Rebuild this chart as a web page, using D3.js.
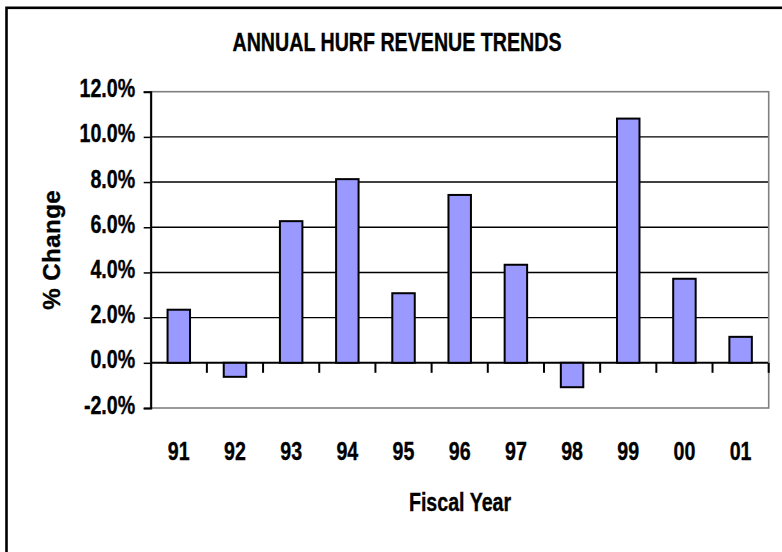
<!DOCTYPE html>
<html>
<head>
<meta charset="utf-8">
<script src="https://cdn.jsdelivr.net/npm/d3@7"></script>
<style>
  body { margin: 0; background: #fff; }
  text { font-family: "Liberation Sans", Arial, sans-serif; font-weight: bold; fill: #000; }
</style>
</head>
<body>
<div id="chart"></div>
<script>
// data
const years = ["91", "92", "93", "94", "95", "96", "97", "98", "99", "00", "01"];
const pctChange = [2.35, -0.62, 6.27, 8.13, 3.08, 7.43, 4.34, -1.08, 10.81, 3.72, 1.15];
const yTicks = [-2, 0, 2, 4, 6, 8, 10, 12];

const width = 782;
const height = 552;
const plot = { left: 150.7, right: 768.7, top: 91.7, bottom: 408 };
const squash = 0.77;   // narrow bold look of the original font
const fontSize = "25.5px";

const svg = d3.select("#chart")
  .append("svg")
  .attr("width", width)
  .attr("height", height);

// outer chart border (runs off the right and bottom edges)
svg.append("rect")
  .attr("x", 6.5).attr("y", 7.8)
  .attr("width", 800).attr("height", 600)
  .attr("fill", "none")
  .attr("stroke", "#000")
  .attr("stroke-width", 2.6);

const x = d3.scaleBand()
  .domain(years)
  .range([plot.left, plot.right])
  .paddingInner(0.6)
  .paddingOuter(0.3);

const y = d3.scaleLinear()
  .domain([-2, 12])
  .range([plot.bottom, plot.top]);

// gridlines
svg.append("g")
  .selectAll("line")
  .data(yTicks.filter(d => d > -2 && d < 12))
  .enter()
  .append("line")
  .attr("x1", plot.left).attr("x2", plot.right)
  .attr("y1", d => y(d)).attr("y2", d => y(d))
  .attr("stroke", "#000")
  .attr("stroke-width", d => d === 0 ? 2 : 1.4);

// plot area border (grey)
svg.append("rect")
  .attr("x", plot.left).attr("y", plot.top)
  .attr("width", plot.right - plot.left)
  .attr("height", plot.bottom - plot.top)
  .attr("fill", "none")
  .attr("stroke", "#808080")
  .attr("stroke-width", 1.6);

// bars
svg.append("g")
  .selectAll("rect")
  .data(years.map((yr, i) => ({ yr, v: pctChange[i] })))
  .enter()
  .append("rect")
  .attr("x", d => x(d.yr))
  .attr("width", x.bandwidth())
  .attr("y", d => y(Math.max(0, d.v)))
  .attr("height", d => Math.abs(y(d.v) - y(0)))
  .attr("fill", "#9999ff")
  .attr("stroke", "#000")
  .attr("stroke-width", 2);

// category boundary ticks hanging from the zero line
const step = x.step();
svg.append("g")
  .selectAll("line")
  .data(years)
  .enter()
  .append("line")
  .attr("x1", d => x(d) - step * 0.3 + step)
  .attr("x2", d => x(d) - step * 0.3 + step)
  .attr("y1", y(0))
  .attr("y2", y(0) + 10)
  .attr("stroke", "#000")
  .attr("stroke-width", 2);

function boldText(sel) {
  sel.style("font-size", fontSize)
    .style("font-family", "'Liberation Sans', Arial, sans-serif")
    .style("font-weight", "bold")
    .attr("fill", "#000")
    .attr("stroke", "#000")
    .attr("stroke-width", 0.35);
}

// Y axis
const yAxis = svg.append("g")
  .attr("transform", `translate(${plot.left},0)`)
  .call(d3.axisLeft(y)
    .tickValues(yTicks)
    .tickSize(7)
    .tickFormat(d => d.toFixed(1) + "%"));

yAxis.select(".domain")
  .attr("stroke", "#000")
  .attr("stroke-width", 2);
yAxis.selectAll(".tick line")
  .attr("stroke", "#000")
  .attr("stroke-width", 1.5);
yAxis.selectAll(".tick text")
  .attr("x", 0)
  .attr("dy", 5)
  .attr("transform", `translate(-15.5,0) scale(${squash},1)`)
  .call(boldText);

// X labels
const xAxis = svg.append("g")
  .attr("transform", "translate(0,460)")
  .call(d3.axisBottom(x).tickSize(0));
xAxis.select(".domain").remove();
xAxis.selectAll(".tick text")
  .attr("y", 0)
  .attr("dy", 0)
  .attr("transform", `scale(${squash},1)`)
  .call(boldText);

// title
svg.append("text")
  .attr("transform", `translate(397,51) scale(${squash},1)`)
  .attr("text-anchor", "middle")
  .call(boldText)
  .text("ANNUAL HURF REVENUE TRENDS");

// axis titles
svg.append("text")
  .attr("transform", `translate(460,511) scale(${squash},1)`)
  .attr("text-anchor", "middle")
  .call(boldText)
  .text("Fiscal Year");

svg.append("text")
  .attr("transform", `translate(60,${(plot.top + plot.bottom) / 2}) rotate(-90)`)
  .attr("text-anchor", "middle")
  .call(boldText)
  .style("font-size", "24px")
  .style("letter-spacing", "0.5px")
  .text("% Change");
</script>
</body>
</html>
